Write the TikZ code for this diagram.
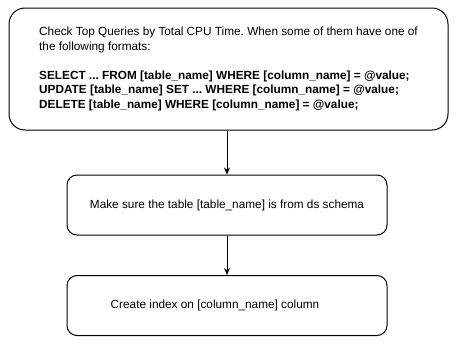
\documentclass[tikz,border=0pt]{standalone}
\usepackage{fontspec}
\setmainfont{Liberation Sans}
\usetikzlibrary{positioning,arrows.meta}
\frenchspacing

\begin{document}
\begin{tikzpicture}[x=1pt, y=-1pt,
    box/.style={draw, line width=1pt, rounded corners=10pt,
                font=\fontsize{11.8}{14.5}\selectfont,
                minimum width=320pt, minimum height=60pt, inner sep=0pt},
    flow/.style={-{Stealth[length=7pt, width=6pt]}, line width=1pt}
  ]
    \useasboundingbox (0,0) rectangle (456,346);
    \node[box, rounded corners=16pt, minimum width=439pt, minimum height=122pt,
          align=left] (check) at (228.5,69) {
      Check Top Queries by Total CPU Time. When some of them have one of\\
      the following formats:\\[14.5pt]
      \textbf{SELECT ... FROM [table\_name] WHERE [column\_name] = @value;}\\
      \textbf{UPDATE [table\_name] SET ... WHERE [column\_name] = @value;}\\
      \textbf{DELETE [table\_name] WHERE [column\_name] = @value;}
    };
    \node[box] (schema) at (227,205) {Make sure the table [table\_name] is from ds schema};
    \node[box] (index) at (227,305.5) {\hspace{-24pt}Create index on [column\_name] column};
    \draw[flow] (check.south -| schema.north) -- (schema.north);
    \draw[flow] (schema.south) -- (index.north);
  \end{tikzpicture}
\end{document}
